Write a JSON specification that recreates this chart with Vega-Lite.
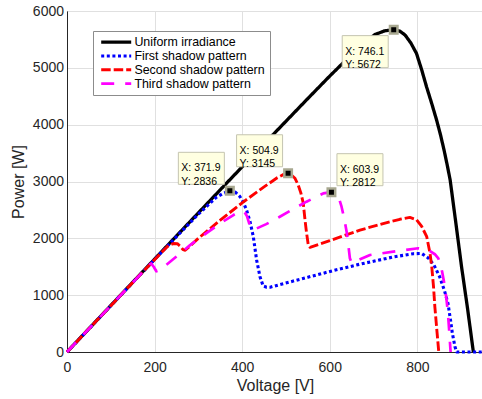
{
  "$schema": "https://vega.github.io/schema/vega-lite/v6.json",
  "width": 416,
  "height": 341,
  "autosize": "none",
  "padding": {"left": 67, "top": 11, "right": 0, "bottom": 47},
  "background": "white",
  "config": {
    "view": {"stroke": "#262626", "strokeWidth": 1},
    "font": "Liberation Sans",
    "axis": {
      "domainColor": "#262626", "domainWidth": 1, "ticks": false, "labelFlush": false,
      "gridColor": "#e0e0e0", "gridWidth": 1,
      "labelFont": "Liberation Sans", "labelFontSize": 14, "labelColor": "#262626",
      "titleFont": "Liberation Sans", "titleFontSize": 16, "titleFontWeight": "normal", "titleColor": "#262626"
    },
    "axisX": {"labelPadding": 8, "titlePadding": 3},
    "axisY": {"labelPadding": 3.5, "titlePadding": 6}
  },
  "datasets": {
    "curves": [
      {"series": "Uniform irradiance", "V": 0, "P": 0},
      {"series": "Uniform irradiance", "V": 50, "P": 409},
      {"series": "Uniform irradiance", "V": 100, "P": 817},
      {"series": "Uniform irradiance", "V": 150, "P": 1226},
      {"series": "Uniform irradiance", "V": 200, "P": 1634},
      {"series": "Uniform irradiance", "V": 250, "P": 2042},
      {"series": "Uniform irradiance", "V": 300, "P": 2448},
      {"series": "Uniform irradiance", "V": 350, "P": 2854},
      {"series": "Uniform irradiance", "V": 400, "P": 3258},
      {"series": "Uniform irradiance", "V": 450, "P": 3660},
      {"series": "Uniform irradiance", "V": 500, "P": 4060},
      {"series": "Uniform irradiance", "V": 550, "P": 4460},
      {"series": "Uniform irradiance", "V": 600, "P": 4855},
      {"series": "Uniform irradiance", "V": 650, "P": 5235},
      {"series": "Uniform irradiance", "V": 680, "P": 5440},
      {"series": "Uniform irradiance", "V": 703, "P": 5585},
      {"series": "Uniform irradiance", "V": 725, "P": 5650},
      {"series": "Uniform irradiance", "V": 746.1, "P": 5672},
      {"series": "Uniform irradiance", "V": 760, "P": 5645},
      {"series": "Uniform irradiance", "V": 772, "P": 5578},
      {"series": "Uniform irradiance", "V": 785, "P": 5440},
      {"series": "Uniform irradiance", "V": 798, "P": 5256},
      {"series": "Uniform irradiance", "V": 810, "P": 4965},
      {"series": "Uniform irradiance", "V": 821, "P": 4668},
      {"series": "Uniform irradiance", "V": 833, "P": 4370},
      {"series": "Uniform irradiance", "V": 844, "P": 4082},
      {"series": "Uniform irradiance", "V": 853, "P": 3820},
      {"series": "Uniform irradiance", "V": 861, "P": 3555},
      {"series": "Uniform irradiance", "V": 868, "P": 3300},
      {"series": "Uniform irradiance", "V": 875, "P": 3027},
      {"series": "Uniform irradiance", "V": 888, "P": 2270},
      {"series": "Uniform irradiance", "V": 901, "P": 1501},
      {"series": "Uniform irradiance", "V": 915, "P": 750},
      {"series": "Uniform irradiance", "V": 928, "P": 0},

      {"series": "First shadow pattern", "V": 0, "P": 0},
      {"series": "First shadow pattern", "V": 50, "P": 408},
      {"series": "First shadow pattern", "V": 100, "P": 815},
      {"series": "First shadow pattern", "V": 150, "P": 1222},
      {"series": "First shadow pattern", "V": 200, "P": 1628},
      {"series": "First shadow pattern", "V": 250, "P": 2030},
      {"series": "First shadow pattern", "V": 300, "P": 2425},
      {"series": "First shadow pattern", "V": 340, "P": 2715},
      {"series": "First shadow pattern", "V": 357, "P": 2792},
      {"series": "First shadow pattern", "V": 371.9, "P": 2836},
      {"series": "First shadow pattern", "V": 385, "P": 2810},
      {"series": "First shadow pattern", "V": 395, "P": 2733},
      {"series": "First shadow pattern", "V": 403, "P": 2630},
      {"series": "First shadow pattern", "V": 410, "P": 2499},
      {"series": "First shadow pattern", "V": 418, "P": 2293},
      {"series": "First shadow pattern", "V": 425.5, "P": 2029},
      {"series": "First shadow pattern", "V": 433, "P": 1619},
      {"series": "First shadow pattern", "V": 440.7, "P": 1325},
      {"series": "First shadow pattern", "V": 448, "P": 1160},
      {"series": "First shadow pattern", "V": 456, "P": 1140},
      {"series": "First shadow pattern", "V": 464, "P": 1140},
      {"series": "First shadow pattern", "V": 483, "P": 1180},
      {"series": "First shadow pattern", "V": 550, "P": 1315},
      {"series": "First shadow pattern", "V": 608, "P": 1432},
      {"series": "First shadow pattern", "V": 669, "P": 1545},
      {"series": "First shadow pattern", "V": 745, "P": 1672},
      {"series": "First shadow pattern", "V": 791, "P": 1730},
      {"series": "First shadow pattern", "V": 810, "P": 1733},
      {"series": "First shadow pattern", "V": 825, "P": 1655},
      {"series": "First shadow pattern", "V": 838, "P": 1530},
      {"series": "First shadow pattern", "V": 851, "P": 1324},
      {"series": "First shadow pattern", "V": 862, "P": 1080},
      {"series": "First shadow pattern", "V": 870, "P": 856},
      {"series": "First shadow pattern", "V": 876, "P": 550},
      {"series": "First shadow pattern", "V": 880, "P": 330},
      {"series": "First shadow pattern", "V": 886, "P": 93},
      {"series": "First shadow pattern", "V": 890, "P": 0},
      {"series": "First shadow pattern", "V": 947, "P": 0},

      {"series": "Second shadow pattern", "V": 0, "P": 0},
      {"series": "Second shadow pattern", "V": 50, "P": 408},
      {"series": "Second shadow pattern", "V": 100, "P": 815},
      {"series": "Second shadow pattern", "V": 150, "P": 1222},
      {"series": "Second shadow pattern", "V": 200, "P": 1625},
      {"series": "Second shadow pattern", "V": 230, "P": 1860},
      {"series": "Second shadow pattern", "V": 243, "P": 1910},
      {"series": "Second shadow pattern", "V": 252, "P": 1905},
      {"series": "Second shadow pattern", "V": 259, "P": 1860},
      {"series": "Second shadow pattern", "V": 265, "P": 1800},
      {"series": "Second shadow pattern", "V": 270, "P": 1790},
      {"series": "Second shadow pattern", "V": 300, "P": 2000},
      {"series": "Second shadow pattern", "V": 350, "P": 2320},
      {"series": "Second shadow pattern", "V": 400, "P": 2625},
      {"series": "Second shadow pattern", "V": 450, "P": 2905},
      {"series": "Second shadow pattern", "V": 480, "P": 3065},
      {"series": "Second shadow pattern", "V": 495, "P": 3125},
      {"series": "Second shadow pattern", "V": 504.9, "P": 3145},
      {"series": "Second shadow pattern", "V": 513, "P": 3110},
      {"series": "Second shadow pattern", "V": 520.7, "P": 3057},
      {"series": "Second shadow pattern", "V": 528, "P": 2938},
      {"series": "Second shadow pattern", "V": 534, "P": 2800},
      {"series": "Second shadow pattern", "V": 539.6, "P": 2617},
      {"series": "Second shadow pattern", "V": 543.5, "P": 2323},
      {"series": "Second shadow pattern", "V": 547, "P": 2100},
      {"series": "Second shadow pattern", "V": 551, "P": 1883},
      {"series": "Second shadow pattern", "V": 555, "P": 1842},
      {"series": "Second shadow pattern", "V": 600, "P": 1960},
      {"series": "Second shadow pattern", "V": 669, "P": 2145},
      {"series": "Second shadow pattern", "V": 720, "P": 2255},
      {"series": "Second shadow pattern", "V": 760, "P": 2335},
      {"series": "Second shadow pattern", "V": 783, "P": 2368},
      {"series": "Second shadow pattern", "V": 798, "P": 2328},
      {"series": "Second shadow pattern", "V": 810, "P": 2210},
      {"series": "Second shadow pattern", "V": 821.5, "P": 2029},
      {"series": "Second shadow pattern", "V": 829, "P": 1737},
      {"series": "Second shadow pattern", "V": 833, "P": 1501},
      {"series": "Second shadow pattern", "V": 837, "P": 1150},
      {"series": "Second shadow pattern", "V": 840, "P": 800},
      {"series": "Second shadow pattern", "V": 845, "P": 350},
      {"series": "Second shadow pattern", "V": 849, "P": 0},

      {"series": "Third shadow pattern", "V": 0, "P": 0},
      {"series": "Third shadow pattern", "V": 50, "P": 408},
      {"series": "Third shadow pattern", "V": 100, "P": 815},
      {"series": "Third shadow pattern", "V": 150, "P": 1222},
      {"series": "Third shadow pattern", "V": 192, "P": 1560},
      {"series": "Third shadow pattern", "V": 198, "P": 1500},
      {"series": "Third shadow pattern", "V": 204, "P": 1420},
      {"series": "Third shadow pattern", "V": 212, "P": 1440},
      {"series": "Third shadow pattern", "V": 250, "P": 1680},
      {"series": "Third shadow pattern", "V": 281, "P": 1880},
      {"series": "Third shadow pattern", "V": 320, "P": 2100},
      {"series": "Third shadow pattern", "V": 357, "P": 2300},
      {"series": "Third shadow pattern", "V": 380, "P": 2410},
      {"series": "Third shadow pattern", "V": 395, "P": 2470},
      {"series": "Third shadow pattern", "V": 401, "P": 2480},
      {"series": "Third shadow pattern", "V": 406, "P": 2455},
      {"series": "Third shadow pattern", "V": 411, "P": 2390},
      {"series": "Third shadow pattern", "V": 415, "P": 2290},
      {"series": "Third shadow pattern", "V": 419, "P": 2190},
      {"series": "Third shadow pattern", "V": 425.5, "P": 2147},
      {"series": "Third shadow pattern", "V": 455, "P": 2250},
      {"series": "Third shadow pattern", "V": 486, "P": 2380},
      {"series": "Third shadow pattern", "V": 520, "P": 2530},
      {"series": "Third shadow pattern", "V": 547, "P": 2645},
      {"series": "Third shadow pattern", "V": 585, "P": 2790},
      {"series": "Third shadow pattern", "V": 603.9, "P": 2812},
      {"series": "Third shadow pattern", "V": 615.7, "P": 2763},
      {"series": "Third shadow pattern", "V": 622, "P": 2680},
      {"series": "Third shadow pattern", "V": 627, "P": 2557},
      {"series": "Third shadow pattern", "V": 633, "P": 2350},
      {"series": "Third shadow pattern", "V": 638.6, "P": 2117},
      {"series": "Third shadow pattern", "V": 643, "P": 1850},
      {"series": "Third shadow pattern", "V": 646, "P": 1650},
      {"series": "Third shadow pattern", "V": 650, "P": 1565},
      {"series": "Third shadow pattern", "V": 692, "P": 1707},
      {"series": "Third shadow pattern", "V": 745, "P": 1765},
      {"series": "Third shadow pattern", "V": 802, "P": 1825},
      {"series": "Third shadow pattern", "V": 825, "P": 1795},
      {"series": "Third shadow pattern", "V": 840, "P": 1720},
      {"series": "Third shadow pattern", "V": 848, "P": 1648},
      {"series": "Third shadow pattern", "V": 853, "P": 1530},
      {"series": "Third shadow pattern", "V": 857, "P": 1400},
      {"series": "Third shadow pattern", "V": 863, "P": 1148},
      {"series": "Third shadow pattern", "V": 867, "P": 900},
      {"series": "Third shadow pattern", "V": 870, "P": 680},
      {"series": "Third shadow pattern", "V": 873, "P": 350},
      {"series": "Third shadow pattern", "V": 876, "P": 0}
    ],
    "tips": [
      {"V": 371.9, "P": 2836},
      {"V": 504.9, "P": 3145},
      {"V": 603.9, "P": 2812},
      {"V": 746.1, "P": 5672}
    ]
  },
  "layer": [
    {
      "data": {"name": "curves"},
      "mark": {"type": "line", "strokeCap": "butt", "strokeJoin": "round"},
      "encoding": {
        "x": {"field": "V", "type": "quantitative",
              "scale": {"domain": [0, 950], "nice": false, "zero": false},
              "axis": {"title": "Voltage [V]", "values": [0, 200, 400, 600, 800], "format": "d"}},
        "y": {"field": "P", "type": "quantitative",
              "scale": {"domain": [0, 6000], "nice": false},
              "axis": {"title": "Power [W]", "values": [0, 1000, 2000, 3000, 4000, 5000, 6000], "format": "d"}},
        "color": {"field": "series", "type": "nominal",
                  "scale": {"domain": ["Uniform irradiance", "First shadow pattern", "Second shadow pattern", "Third shadow pattern"],
                            "range": ["#000000", "#0000ff", "#ff0000", "#ff00ff"]},
                  "legend": {"title": null, "orient": "none", "legendX": 26, "legendY": 20,
                             "padding": 5, "strokeColor": "#8c8c8c", "fillColor": "white",
                             "labelFont": "Liberation Sans", "labelFontSize": 12.4, "labelColor": "#000000", "labelLimit": 300,
                             "symbolType": "M-5,0L5,0", "symbolSize": 36, "symbolOffset": 12, "labelOffset": 12,
                             "symbolStrokeWidth": 2.7, "rowPadding": 0.8,
                             "encode": {"symbols": {"update": {"strokeWidth": {"signal": "datum.value === 'Uniform irradiance' ? 4 : 2.7"}}}}}},
        "strokeDash": {"field": "series", "type": "nominal",
                  "scale": {"domain": ["Uniform irradiance", "First shadow pattern", "Second shadow pattern", "Third shadow pattern"],
                            "range": [[1, 0], [3, 2.6], [9.5, 3], [13, 11]]},
                  "legend": {"title": null, "orient": "none", "legendX": 26, "legendY": 20,
                             "padding": 5, "strokeColor": "#8c8c8c", "fillColor": "white",
                             "labelFont": "Liberation Sans", "labelFontSize": 12.4, "labelColor": "#000000", "labelLimit": 300,
                             "symbolType": "M-5,0L5,0", "symbolSize": 36, "symbolOffset": 12, "labelOffset": 12,
                             "symbolStrokeWidth": 2.7, "rowPadding": 0.8,
                             "encode": {"symbols": {"update": {"strokeWidth": {"signal": "datum.value === 'Uniform irradiance' ? 4 : 2.7"}}}}}},
        "strokeWidth": {"field": "series", "type": "nominal",
                  "scale": {"domain": ["Uniform irradiance", "First shadow pattern", "Second shadow pattern", "Third shadow pattern"],
                            "range": [3.3, 2.7, 2.7, 2.7]},
                  "legend": null}
      }
    },
    {
      "data": {"name": "tips"},
      "mark": {"type": "point", "shape": "square", "size": 56, "filled": true, "fill": "#000000", "stroke": "#a8a890", "strokeWidth": 2.5, "opacity": 1},
      "encoding": {
        "x": {"field": "V", "type": "quantitative"},
        "y": {"field": "P", "type": "quantitative"}
      }
    },
    {
      "data": {"name": "tips"},
      "transform": [{"filter": "datum.V == 371.9 || datum.V == 504.9"}],
      "mark": {"type": "point", "shape": "M-1,-0.696L1,-0.696L1,0.696L-1,0.696Z", "size": 2116, "filled": true, "fill": "#ffffe1", "stroke": "#c4c4b0", "strokeWidth": 1, "opacity": 1, "xOffset": -28.5, "yOffset": -22.5},
      "encoding": {
        "x": {"field": "V", "type": "quantitative"},
        "y": {"field": "P", "type": "quantitative"}
      }
    },
    {
      "data": {"name": "tips"},
      "transform": [{"filter": "datum.V == 603.9"}],
      "mark": {"type": "point", "shape": "M-1,-0.696L1,-0.696L1,0.696L-1,0.696Z", "size": 2116, "filled": true, "fill": "#ffffe1", "stroke": "#c4c4b0", "strokeWidth": 1, "opacity": 1, "xOffset": 28.5, "yOffset": -22.5},
      "encoding": {
        "x": {"field": "V", "type": "quantitative"},
        "y": {"field": "P", "type": "quantitative"}
      }
    },
    {
      "data": {"name": "tips"},
      "transform": [{"filter": "datum.V == 746.1"}],
      "mark": {"type": "point", "shape": "M-1,-0.696L1,-0.696L1,0.696L-1,0.696Z", "size": 2116, "filled": true, "fill": "#ffffe1", "stroke": "#c4c4b0", "strokeWidth": 1, "opacity": 1, "xOffset": -28.5, "yOffset": 22},
      "encoding": {
        "x": {"field": "V", "type": "quantitative"},
        "y": {"field": "P", "type": "quantitative"}
      }
    },
    {
      "data": {"name": "tips"},
      "transform": [{"filter": "datum.V == 371.9 || datum.V == 504.9"},
                    {"calculate": "'X: ' + format(datum.V, '.1f') + '\\n' + 'Y: ' + datum.P", "as": "label"}],
      "mark": {"type": "text", "align": "left", "baseline": "middle", "lineBreak": "\n", "lineHeight": 13.3, "font": "Liberation Sans", "fontSize": 10.5, "color": "#000000", "dx": -48.5, "dy": -22.5},
      "encoding": {
        "x": {"field": "V", "type": "quantitative"},
        "y": {"field": "P", "type": "quantitative"},
        "text": {"field": "label", "type": "nominal"}
      }
    },
    {
      "data": {"name": "tips"},
      "transform": [{"filter": "datum.V == 603.9"},
                    {"calculate": "'X: ' + format(datum.V, '.1f') + '\\n' + 'Y: ' + datum.P", "as": "label"}],
      "mark": {"type": "text", "align": "left", "baseline": "middle", "lineBreak": "\n", "lineHeight": 13.3, "font": "Liberation Sans", "fontSize": 10.5, "color": "#000000", "dx": 8.5, "dy": -22.5},
      "encoding": {
        "x": {"field": "V", "type": "quantitative"},
        "y": {"field": "P", "type": "quantitative"},
        "text": {"field": "label", "type": "nominal"}
      }
    },
    {
      "data": {"name": "tips"},
      "transform": [{"filter": "datum.V == 746.1"},
                    {"calculate": "'X: ' + format(datum.V, '.1f') + '\\n' + 'Y: ' + datum.P", "as": "label"}],
      "mark": {"type": "text", "align": "left", "baseline": "middle", "lineBreak": "\n", "lineHeight": 13.3, "font": "Liberation Sans", "fontSize": 10.5, "color": "#000000", "dx": -48.5, "dy": 22},
      "encoding": {
        "x": {"field": "V", "type": "quantitative"},
        "y": {"field": "P", "type": "quantitative"},
        "text": {"field": "label", "type": "nominal"}
      }
    }
  ]
}
